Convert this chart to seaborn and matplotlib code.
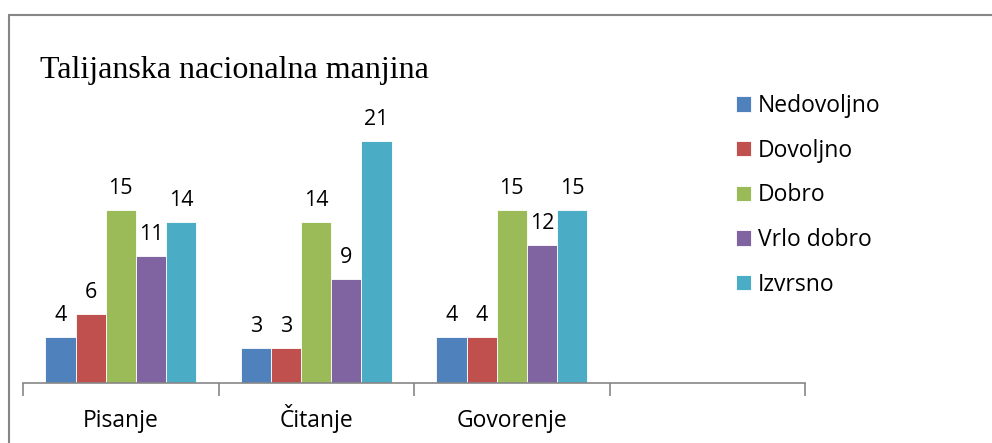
"""
Talijanska nacionalna manjina - grouped bar chart (Excel-style)
"""

import pandas as pd
import matplotlib.pyplot as plt
import seaborn as sns
from matplotlib.lines import Line2D

# Data
categories = ['Pisanje', 'Čitanje', 'Govorenje']
grades = ['Nedovoljno', 'Dovoljno', 'Dobro', 'Vrlo dobro', 'Izvrsno']
nedovoljno = [4, 3, 4]
dovoljno = [6, 3, 4]
dobro = [15, 14, 15]
vrlo_dobro = [11, 9, 12]
izvrsno = [14, 21, 15]
colors = ['#4F81BD', '#C0504D', '#9BBB59', '#8064A2', '#4BACC6']

title = 'Talijanska nacionalna manjina'


def build_frame():
    """Long format table for seaborn"""
    series = [nedovoljno, dovoljno, dobro, vrlo_dobro, izvrsno]
    rows = []
    for grade, values in zip(grades, series):
        for cat, v in zip(categories, values):
            rows.append({'category': cat, 'grade': grade, 'count': v})
    return pd.DataFrame(rows)


def main():
    sns.set_theme(style='white')
    plt.rcParams['font.family'] = ['Open Sans', 'DejaVu Sans']

    df = build_frame()

    fig = plt.figure(figsize=(9.92, 4.43), dpi=100)
    ax = fig.add_axes([23 / 992, 60 / 443, 782 / 992, 288 / 443])

    # empty fourth slot like in the original
    order = categories + ['']
    sns.barplot(data=df, x='category', y='count', hue='grade', order=order,
                hue_order=grades, palette=colors, width=0.77, gap=0,
                edgecolor='white', linewidth=0.6, saturation=1,
                errorbar=None, ax=ax, legend=True)

    for container in ax.containers:
        ax.bar_label(container, padding=8, fontsize=15.5, color='black')

    ax.set_xlim(-0.5, 3.5)
    ax.set_ylim(0, 25)
    ax.set_xlabel('')
    ax.set_ylabel('')
    ax.set_yticks([])
    ax.set_xticks(range(4))
    ax.set_xticklabels(order, fontsize=16.5, color='black', va='baseline')
    ax.set_xticks([-0.5, 0.5, 1.5, 2.5, 3.5], minor=True)
    ax.tick_params(axis='x', which='major', length=0, pad=31.5)
    ax.tick_params(axis='x', which='minor', length=9, width=1.2,
                   color='#868686', direction='out', bottom=True)

    for side in ['top', 'right', 'left']:
        ax.spines[side].set_visible(False)
    ax.spines['bottom'].set_color('#868686')
    ax.spines['bottom'].set_linewidth(1.2)

    leg = ax.legend(loc='upper left', bbox_to_anchor=(727 / 992, 1 - 85 / 443),
                    bbox_transform=fig.transFigure, frameon=False,
                    fontsize=16.5, handlelength=0.65, handleheight=0.65,
                    handletextpad=0.3, labelspacing=0.9, borderaxespad=0)
    for t in leg.get_texts():
        t.set_color('black')

    fig.text(40 / 992, 1 - 78 / 443, title, fontsize=23,
             family=['Liberation Serif', 'DejaVu Serif'], va='baseline',
             ha='left', color='black')

    # outer chart frame (top and left edges only visible)
    fig.add_artist(Line2D([8.5 / 992, 8.5 / 992], [0, 1 - 14.5 / 443],
                          transform=fig.transFigure, color='#868686', lw=1.5))
    fig.add_artist(Line2D([8.5 / 992, 1], [1 - 14.5 / 443, 1 - 14.5 / 443],
                          transform=fig.transFigure, color='#868686', lw=1.5))

    fig.savefig('out.png', dpi=100)
    plt.close(fig)


if __name__ == "__main__":
    main()
